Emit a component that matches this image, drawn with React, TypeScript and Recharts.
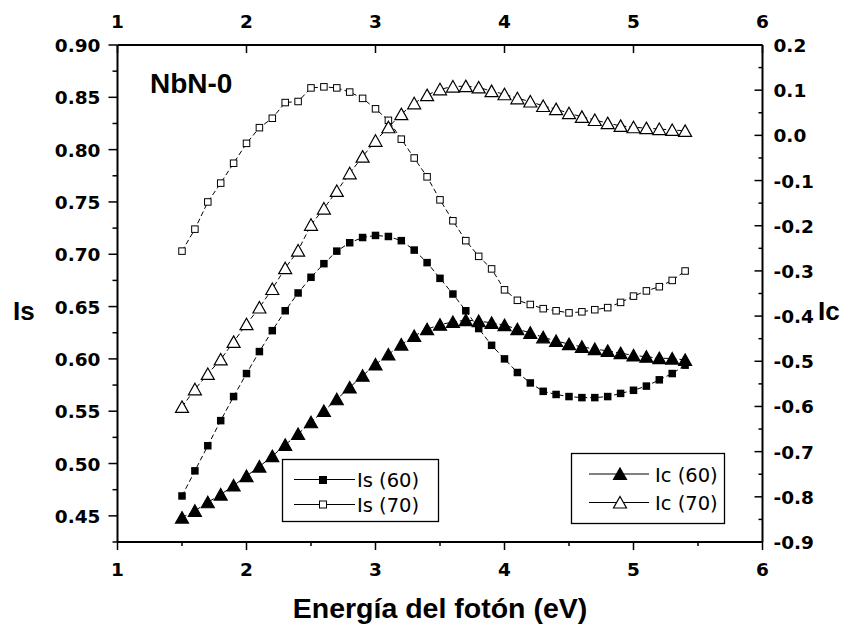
import React from 'react';
import { ComposedChart, Line, XAxis, YAxis } from 'recharts';

// photon energy (eV)
const energy = [
  1.5, 1.6, 1.7, 1.8, 1.9, 2.0, 2.1, 2.2, 2.3, 2.4, 2.5, 2.6, 2.7, 2.8, 2.9, 3.0, 3.1, 3.2, 3.3, 3.4,
  3.5, 3.6, 3.7, 3.8, 3.9, 4.0, 4.1, 4.2, 4.3, 4.4, 4.5, 4.6, 4.7, 4.8, 4.9, 5.0, 5.1, 5.2, 5.3, 5.4,
];

// left axis
const is60 = [
  0.469, 0.493, 0.517, 0.541, 0.564, 0.586, 0.607, 0.627, 0.646, 0.663, 0.678, 0.691, 0.703, 0.711, 0.716,
  0.718, 0.717, 0.713, 0.704, 0.692, 0.677, 0.662, 0.646, 0.629, 0.613, 0.6, 0.587, 0.577, 0.569, 0.566,
  0.564, 0.563, 0.563, 0.564, 0.567, 0.57, 0.574, 0.58, 0.586, 0.594,
];
const is70 = [
  0.703, 0.724, 0.75, 0.768, 0.787, 0.806, 0.821, 0.83, 0.845, 0.846, 0.859, 0.86, 0.859, 0.855, 0.849,
  0.839, 0.828, 0.81, 0.792, 0.774, 0.752, 0.732, 0.713, 0.698, 0.686, 0.666, 0.656, 0.652, 0.648, 0.646,
  0.644, 0.645, 0.647, 0.649, 0.654, 0.66, 0.665, 0.669, 0.675, 0.684,
];

// right axis
const ic60 = [
  -0.846, -0.831, -0.812, -0.795, -0.775, -0.754, -0.733, -0.71, -0.685, -0.661, -0.635, -0.61, -0.584,
  -0.558, -0.532, -0.507, -0.485, -0.463, -0.444, -0.429, -0.419, -0.413, -0.409, -0.411, -0.415, -0.42,
  -0.429, -0.437, -0.447, -0.455, -0.462, -0.468, -0.473, -0.477, -0.482, -0.487, -0.49, -0.493, -0.494,
  -0.497,
];
const ic70 = [
  -0.601, -0.562, -0.528, -0.496, -0.457, -0.418, -0.381, -0.34, -0.294, -0.255, -0.198, -0.162, -0.123,
  -0.084, -0.047, -0.012, 0.018, 0.047, 0.071, 0.089, 0.102, 0.108, 0.109, 0.106, 0.098, 0.091, 0.082,
  0.075, 0.065, 0.058, 0.049, 0.041, 0.034, 0.027, 0.021, 0.018, 0.016, 0.014, 0.012, 0.01,
];

const xMajor = [1, 2, 3, 4, 5, 6];
const xMinor = [1.5, 2.5, 3.5, 4.5, 5.5];
const isMajor = [0.45, 0.5, 0.55, 0.6, 0.65, 0.7, 0.75, 0.8, 0.85, 0.9];
const isMinor = [0.425, 0.475, 0.525, 0.575, 0.625, 0.675, 0.725, 0.775, 0.825, 0.875];
const icMajor = [-0.9, -0.8, -0.7, -0.6, -0.5, -0.4, -0.3, -0.2, -0.1, 0.0, 0.1, 0.2];
const icMinor = [-0.85, -0.75, -0.65, -0.55, -0.45, -0.35, -0.25, -0.15, -0.05, 0.05, 0.15];

const data = energy.map((x, i) => ({ x, is60: is60[i], is70: is70[i], ic60: ic60[i], ic70: ic70[i] }));

const tickFont = {
  fontFamily: "'DejaVu Sans', Verdana, sans-serif",
  fontWeight: 'bold' as const,
  fontSize: 18.5,
  fill: '#000',
};
const arial = "'Liberation Sans', Arial, sans-serif";

const has = (list: number[], v: number) => list.some((m) => Math.abs(m - v) < 1e-6);
const sorted = (a: number[], b: number[]) => [...a, ...b].sort((p, q) => p - q);

function BottomTick({ x, y, payload }: any) {
  const major = has(xMajor, payload.value);
  return (
    <g>
      <line x1={x} x2={x} y1={y} y2={y + (major ? 8 : 4)} stroke="#000" strokeWidth={1.5} />
      {major && (
        <text x={x} y={y + 34} textAnchor="middle" {...tickFont}>
          {payload.value}
        </text>
      )}
    </g>
  );
}

function TopTick({ x, y, payload }: any) {
  const major = has(xMajor, payload.value);
  if (!major) return <g />;
  return (
    <g>
      <line x1={x} x2={x} y1={y} y2={y + 8} stroke="#000" strokeWidth={1.5} />
      <text x={x} y={y - 17} textAnchor="middle" {...tickFont}>
        {payload.value}
      </text>
    </g>
  );
}

function LeftTick({ x, y, payload }: any) {
  const major = has(isMajor, payload.value);
  return (
    <g>
      <line x1={x - (major ? 9 : 5)} x2={x} y1={y} y2={y} stroke="#000" strokeWidth={1.5} />
      {major && (
        <text x={x - 17} y={y + 7} textAnchor="end" {...tickFont}>
          {payload.value.toFixed(2)}
        </text>
      )}
    </g>
  );
}

function RightTick({ x, y, payload }: any) {
  const major = has(icMajor, payload.value);
  return (
    <g>
      <line x1={x - (major ? 8 : 4)} x2={x} y1={y} y2={y} stroke="#000" strokeWidth={1.5} />
      {major && (
        <text x={x + 11} y={y + 7} textAnchor="start" {...tickFont}>
          {payload.value.toFixed(1)}
        </text>
      )}
    </g>
  );
}

const square = (filled: boolean, s: number) => (p: any) => (
  <rect
    key={`s-${p.index}`}
    x={p.cx - s / 2}
    y={p.cy - s / 2}
    width={s}
    height={s}
    fill={filled ? '#000' : '#fff'}
    stroke="#000"
    strokeWidth={filled ? 0 : 1}
  />
);

const triangle = (filled: boolean) => (p: any) => (
  <path
    key={`t-${p.index}`}
    d={`M${p.cx},${p.cy - 6} L${p.cx + 6.5},${p.cy + 5.5} L${p.cx - 6.5},${p.cy + 5.5} Z`}
    fill={filled ? '#000' : '#fff'}
    stroke="#000"
    strokeWidth={1.2}
  />
);

function Legends() {
  const txt = { fontFamily: "'DejaVu Sans', sans-serif", fontSize: 19.5, fill: '#000' };
  return (
    <svg width={864} height={628} style={{ position: 'absolute', left: 0, top: 0, pointerEvents: 'none' }}>
      <text x={150} y={93} fontFamily={arial} fontWeight="bold" fontSize={28}>NbN-0</text>
      <text x={13} y={320} fontFamily={arial} fontWeight="bold" fontSize={26}>Is</text>
      <text x={818} y={320} fontFamily={arial} fontWeight="bold" fontSize={26}>Ic</text>
      <text x={440} y={618} textAnchor="middle" fontFamily={arial} fontWeight="bold" fontSize={28.5}>
        Energía del fotón (eV)
      </text>

      <rect x={282.5} y={459.5} width={156} height={62} fill="#fff" stroke="#000" strokeWidth={1.3} />
      <line x1={294} x2={355} y1={479.5} y2={479.5} stroke="#000" strokeWidth={1} />
      <rect x={319} y={476} width={8} height={8} fill="#000" />
      <text x={357} y={487} {...txt}>Is (60)</text>
      <line x1={294} x2={355} y1={504.5} y2={504.5} stroke="#000" strokeWidth={1} />
      <rect x={319.5} y={501} width={7} height={7} fill="#fff" stroke="#000" strokeWidth={1} />
      <text x={357} y={512} {...txt}>Is (70)</text>

      <rect x={571.5} y={453.5} width={153} height={70} fill="#fff" stroke="#000" strokeWidth={1.3} />
      <line x1={589} x2={649} y1={474} y2={474} stroke="#000" strokeWidth={1} />
      <path d="M620,468 L626.5,479.5 L613.5,479.5 Z" fill="#000" stroke="#000" strokeWidth={1.2} />
      <text x={655} y={481.5} {...txt}>Ic (60)</text>
      <line x1={589} x2={649} y1={502.5} y2={502.5} stroke="#000" strokeWidth={1} />
      <path d="M620,496.5 L626.5,508 L613.5,508 Z" fill="#fff" stroke="#000" strokeWidth={1.2} />
      <text x={655} y={510} {...txt}>Ic (70)</text>
    </svg>
  );
}

export default function App() {
  return (
    <div style={{ position: 'absolute', left: 0, top: 0, width: 864, height: 628, background: '#fff' }}>
      <ComposedChart width={864} height={628} data={data} margin={{ top: 15, right: 41.5, bottom: 56, left: 57.5 }}>
        <XAxis
          xAxisId="bottom"
          dataKey="x"
          type="number"
          domain={[1, 6]}
          ticks={sorted(xMajor, xMinor)}
          interval={0}
          height={30}
          tickSize={0}
          tickMargin={0}
          tickLine={false}
          axisLine={{ stroke: '#000', strokeWidth: 2 }}
          tick={<BottomTick />}
          allowDataOverflow
        />
        <XAxis
          xAxisId="top"
          orientation="top"
          dataKey="x"
          type="number"
          domain={[1, 6]}
          ticks={xMajor}
          interval={0}
          height={30}
          tickSize={0}
          tickMargin={0}
          tickLine={false}
          axisLine={{ stroke: '#000', strokeWidth: 2 }}
          tick={<TopTick />}
          allowDataOverflow
        />
        <YAxis
          yAxisId="left"
          type="number"
          domain={[0.425, 0.9]}
          ticks={sorted(isMajor, isMinor)}
          interval={0}
          width={60}
          tickSize={0}
          tickMargin={0}
          tickLine={false}
          axisLine={{ stroke: '#000', strokeWidth: 2 }}
          tick={<LeftTick />}
          allowDataOverflow
        />
        <YAxis
          yAxisId="right"
          orientation="right"
          type="number"
          domain={[-0.9, 0.2]}
          ticks={sorted(icMajor, icMinor)}
          interval={0}
          width={60}
          tickSize={0}
          tickMargin={0}
          tickLine={false}
          axisLine={{ stroke: '#000', strokeWidth: 2 }}
          tick={<RightTick />}
          allowDataOverflow
        />
        <Line xAxisId="bottom" yAxisId="left" dataKey="is70" stroke="#000" strokeWidth={1} strokeDasharray="5 3"
          dot={square(false, 6.5)} isAnimationActive={false} />
        <Line xAxisId="bottom" yAxisId="left" dataKey="is60" stroke="#000" strokeWidth={1} strokeDasharray="5 3"
          dot={square(true, 7.5)} isAnimationActive={false} />
        <Line xAxisId="bottom" yAxisId="right" dataKey="ic70" stroke="#000" strokeWidth={1} strokeDasharray="5 3"
          dot={triangle(false)} isAnimationActive={false} />
        <Line xAxisId="bottom" yAxisId="right" dataKey="ic60" stroke="#000" strokeWidth={1} strokeDasharray="5 3"
          dot={triangle(true)} isAnimationActive={false} />
      </ComposedChart>
      <Legends />
    </div>
  );
}
